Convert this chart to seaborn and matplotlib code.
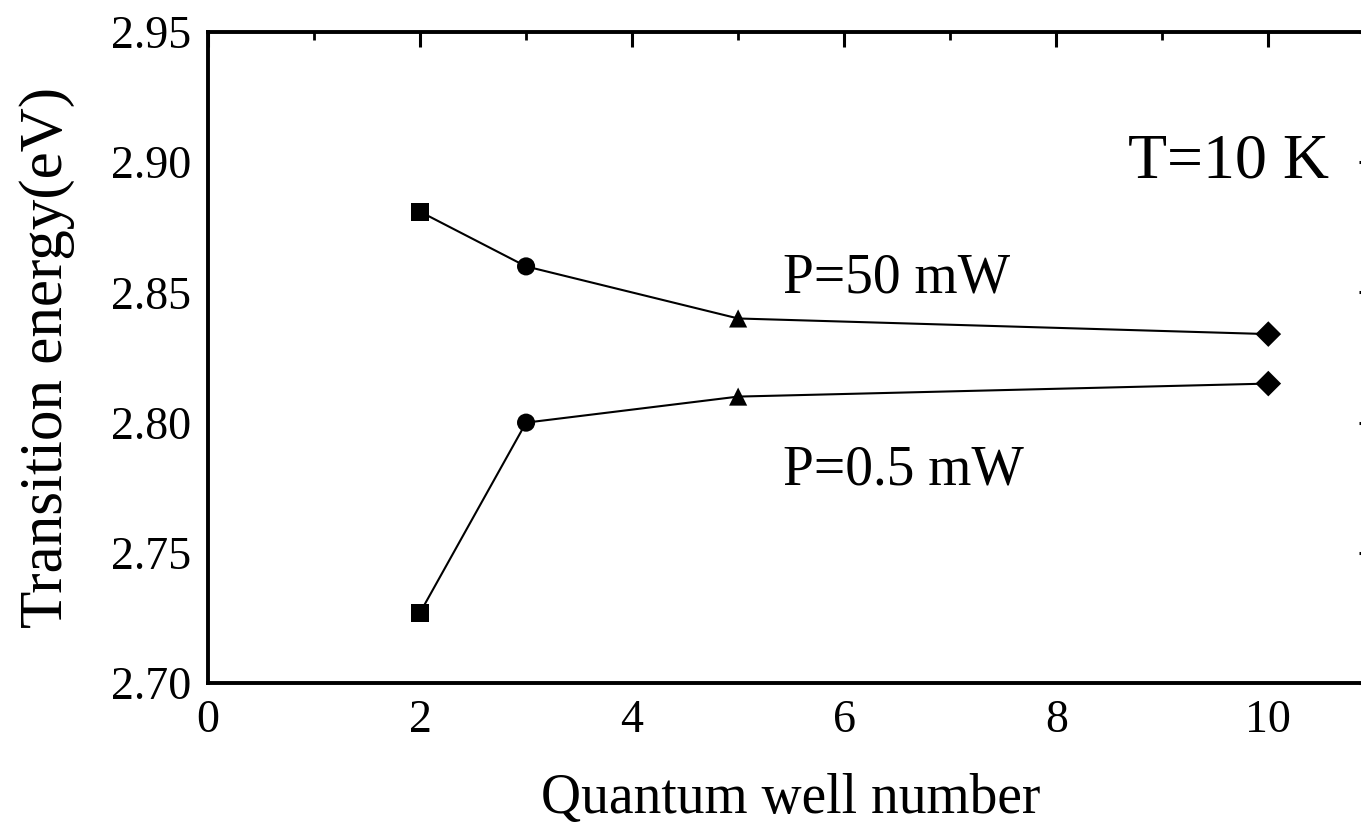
import matplotlib
matplotlib.use("Agg")
import matplotlib.pyplot as plt
import seaborn as sns
import pandas as pd
from matplotlib.ticker import MultipleLocator

well_number = [2, 3, 5, 10]
energy_50mW = [2.881, 2.860, 2.840, 2.834]
energy_05mW = [2.727, 2.800, 2.810, 2.815]
series_labels = ["P=50 mW", "P=0.5 mW"]

sns.set_style("white")
plt.rcParams['font.family'] = ['Liberation Serif', 'DejaVu Serif']
plt.rcParams['mathtext.fontset'] = 'stix'
plt.rcParams['text.color'] = 'black'
plt.rcParams['axes.labelcolor'] = 'black'
plt.rcParams['xtick.color'] = 'black'
plt.rcParams['ytick.color'] = 'black'

df = pd.DataFrame({
    "well": well_number * 2,
    "energy": energy_50mW + energy_05mW,
    "series": [series_labels[0]] * 4 + [series_labels[1]] * 4,
})
df["mk"] = df["well"].astype(str)

fig = plt.figure(figsize=(13.61, 8.34), dpi=100)
ax = fig.add_axes([0.1528, 0.181, 0.857, 0.7806])

sns.lineplot(data=df, x="well", y="energy", units="series", estimator=None,
             color="black", lw=1.5, ax=ax, legend=False)
sns.scatterplot(data=df, x="well", y="energy", style="mk",
                markers={"2": "s", "3": "o", "5": "^", "10": "D"},
                color="black", s=170, edgecolor="black", linewidth=0,
                ax=ax, legend=False, zorder=5)

ax.set_xlim(0, 11)
ax.set_ylim(2.70, 2.95)
ax.xaxis.set_major_locator(MultipleLocator(2))
ax.xaxis.set_minor_locator(MultipleLocator(1))
ax.yaxis.set_major_locator(MultipleLocator(0.05))
ax.yaxis.set_minor_locator(MultipleLocator(0.025))
ax.set_yticks([2.70, 2.75, 2.80, 2.85, 2.90, 2.95])
ax.set_yticklabels(["2.70", "2.75", "2.80", "2.85", "2.90", "2.95"])
ax.tick_params(which="both", direction="in", top=True, right=True, colors="black",
               labelcolor="black")
ax.tick_params(which="major", length=11, width=2.2, labelsize=33, pad=12)
ax.tick_params(which="minor", length=6, width=2)
for sp in ax.spines.values():
    sp.set_linewidth(2.8)
    sp.set_color("black")

ax.set_xlabel("Quantum well number", fontsize=40, labelpad=22, color="black")
ax.set_ylabel("Transition energy(eV)", fontsize=44, labelpad=26, color="black")

ax.text(0.789, 0.80, "T=10 K", transform=ax.transAxes, fontsize=46, ha="left", va="center",
        color="black")
ax.text(5.42, 2.8555, series_labels[0], fontsize=40, ha="left", va="center", color="black")
ax.text(5.42, 2.7815, series_labels[1], fontsize=40, ha="left", va="center", color="black")

fig.savefig("out.png", dpi=100)
